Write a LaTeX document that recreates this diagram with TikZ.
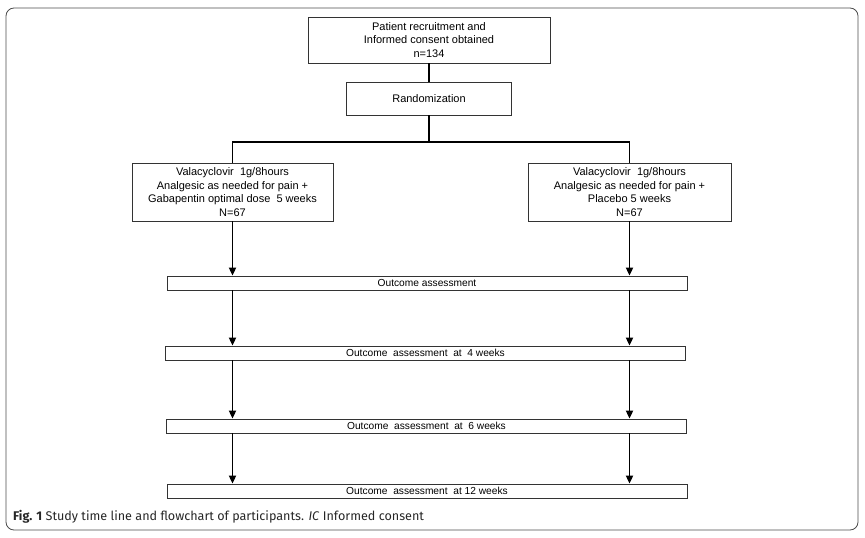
\documentclass[tikz,border=0pt]{standalone}
\usepackage{fontspec}
\setmainfont{Liberation Sans}
\newfontfamily\capfont{Fira Sans}
\usetikzlibrary{arrows.meta}
\begin{document}
\begin{tikzpicture}[x=1pt,y=-1pt,
  box/.style={draw=black!80, line width=0.8pt, fill=white, align=center, inner sep=0pt,
    font=\fontsize{11}{13.4}\selectfont},
  obox/.style={box, minimum width=520pt, minimum height=14pt, font=\fontsize{10.2}{12}\selectfont},
  conn/.style={line width=1.8pt, black},
  arr/.style={conn, -{Triangle[length=8pt,width=7pt]}}]
\useasboundingbox (0,0) rectangle (865,538);
\draw[rounded corners=8pt, line width=0.8pt, draw=black!70] (6,8) rectangle (858,530);

\node[box, minimum width=242pt, minimum height=46pt] (top) at (429,40)
  {Patient recruitment and\\Informed consent obtained\\n=134};
\node[box, minimum width=165pt, minimum height=33pt] (rand) at (429,98.5) {Randomization};
\node[box, minimum width=201pt, minimum height=58pt] (left) at (232.5,192)
  {Valacyclovir\ \ 1g/8hours\\Analgesic as needed for pain +\\Gabapentin optimal dose\ \ 5 weeks\\N=67};
\node[box, minimum width=203pt, minimum height=58pt] (right) at (629.5,192)
  {Valacyclovir\ \ 1g/8hours\\Analgesic as needed for pain +\\Placebo 5 weeks\\N=67};
\node[obox] (o1) at (427,283) {Outcome assessment};
\node[obox] (o2) at (425.5,353) {Outcome\ \ assessment\ \ at\ \ 4 weeks};
\node[obox] (o3) at (426.5,426) {Outcome\ \ assessment\ \ at\ \ 6 weeks};
\node[obox] (o4) at (427,491) {Outcome\ \ assessment\ \ at 12 weeks};

\coordinate (split) at (429,142);
\coordinate (colL) at (232.5,0);
\coordinate (colR) at (629.5,0);

\draw[conn] (top.south) -- (rand.north);
\draw[conn] (rand.south) -- (split);
\draw[conn] (left.north) -- (left.north |- split) -- (right.north |- split) -- (right.north);

\draw[arr] (left.south) -- (o1.north -| colL);
\draw[arr] (right.south) -- (o1.north -| colR);
\draw[arr] (o1.south -| colL) -- (o2.north -| colL);
\draw[arr] (o1.south -| colR) -- (o2.north -| colR);
\draw[arr] (o2.south -| colL) -- (o3.north -| colL);
\draw[arr] (o2.south -| colR) -- (o3.north -| colR);
\draw[arr] (o3.south -| colL) -- (o4.north -| colL);
\draw[arr] (o3.south -| colR) -- (o4.north -| colR);

\node[anchor=base west, inner sep=0pt, font=\capfont\fontsize{12.6}{14}\selectfont, text=black!85] (cap) at (13,520)
  {\textbf{Fig. 1} Study time line and flowchart of participants. \textit{IC} Informed consent};
\end{tikzpicture}
\end{document}
